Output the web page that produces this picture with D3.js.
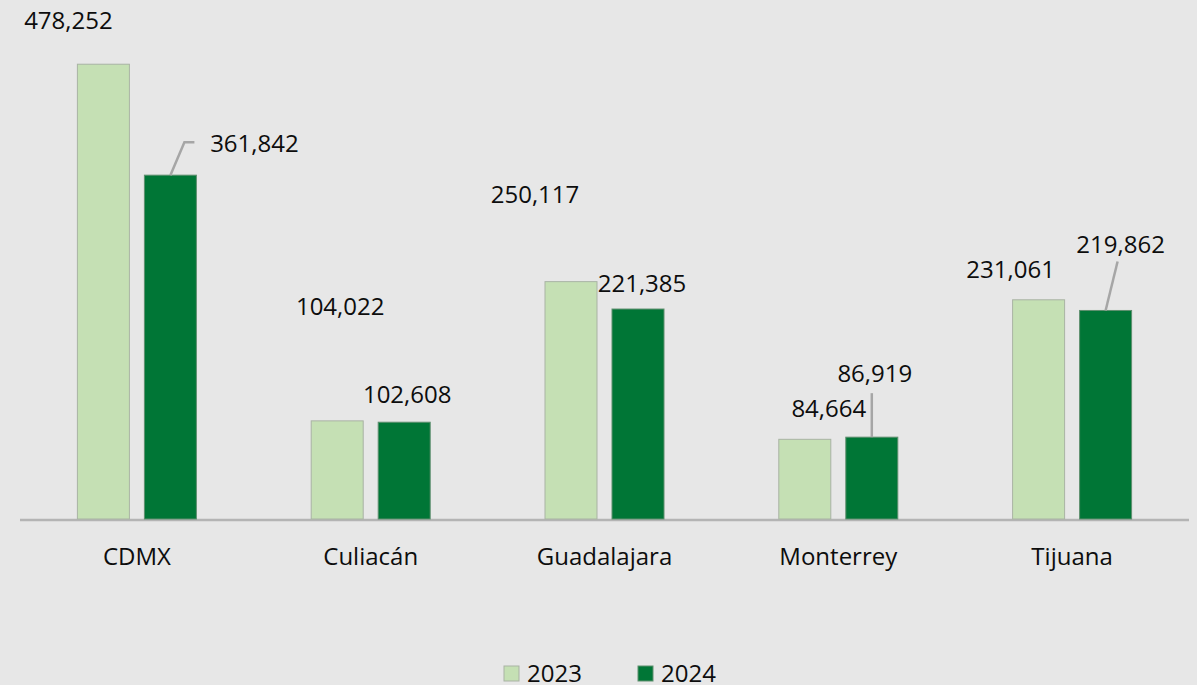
<!DOCTYPE html>
<html lang="es">
  <head>
    <meta charset="UTF-8" />
    <title>2023 vs 2024</title>
    <style>
      html, body { margin: 0; padding: 0; background: #e7e7e7; }
      svg { display: block; }
      text { font-family: "Open Sans", "Noto Sans", sans-serif; fill: #0d0d0d; }
    </style>
  </head>
  <body>
    <svg></svg>
    <script src="https://d3js.org/d3.v7.min.js"></script>
    <script>
      // data
      const cities = ["CDMX", "Culiacán", "Guadalajara", "Monterrey", "Tijuana"];
      const years = ["2023", "2024"];
      const values2023 = [478252, 104022, 250117, 84664, 231061];
      const values2024 = [361842, 102608, 221385, 86919, 219862];

      // label offsets (dx, dy from bar top-center), moved by hand like in the original
      const offsets2023 = [[-35, -35], [3, -106], [-36, -79], [24, -22], [-28, -22]];
      const offsets2024 = [[84, -23], [3, -19], [4, -17], [3, -55], [15, -57]];
      // leader lines, relative to bar top-center: list of points
      const leaders2024 = [[[0, 0], [14, -33], [24, -33]], null, null, [[0, 0], [0, -44]], [[0, 0], [12, -49]]];

      const W = 1197, H = 685;
      const colors = { "2023": "#c5e0b4", "2024": "#007636" };
      const strokes = { "2023": "#a9b3a4", "2024": "#5f8f6f" };

      const svg = d3.select("svg").attr("width", W).attr("height", H);

      const x = d3.scaleBand().domain(cities).range([20, 1189]).padding(0);
      const barW = 52, gap = 15;
      const x1 = d3.scaleOrdinal().domain(years).range([-(barW + gap) / 2, (barW + gap) / 2]);
      const y = d3.scaleLinear().domain([0, 500000]).range([520, 43.5]);

      const fmt = d3.format(",");

      // axis line
      svg.append("line")
        .attr("x1", 20).attr("x2", 1189)
        .attr("y1", 520).attr("y2", 520)
        .style("stroke", "#b4b4b4")
        .style("stroke-width", 2.5);

      const series = [
        { year: "2023", vals: values2023, offs: offsets2023 },
        { year: "2024", vals: values2024, offs: offsets2024 }
      ];

      series.forEach((s) => {
        svg.selectAll(".bar" + s.year)
          .data(s.vals)
          .enter()
          .append("rect")
          .attr("x", (d, i) => x(cities[i]) + x.bandwidth() / 2 + x1(s.year) - barW / 2)
          .attr("y", (d) => y(d))
          .attr("width", barW)
          .attr("height", (d) => 519 - y(d))
          .attr("fill", colors[s.year])
          .attr("stroke", strokes[s.year])
          .attr("stroke-width", 1);
      });

      // leader lines
      values2024.forEach((d, i) => {
        const pts = leaders2024[i];
        if (!pts) return;
        const cx = x(cities[i]) + x.bandwidth() / 2 + x1("2024");
        const cy = y(d);
        svg.append("path")
          .attr("d", d3.line()(pts.map((p) => [cx + p[0], cy + p[1]])))
          .attr("fill", "none")
          .style("stroke", "#a6a6a6")
          .style("stroke-width", 2.5);
      });

      // data labels
      series.forEach((s) => {
        svg.selectAll(".lbl" + s.year)
          .data(s.vals)
          .enter()
          .append("text")
          .attr("x", (d, i) => x(cities[i]) + x.bandwidth() / 2 + x1(s.year) + s.offs[i][0])
          .attr("y", (d, i) => y(d) + s.offs[i][1])
          .attr("text-anchor", "middle")
          .attr("font-size", "24px")
          .text((d) => fmt(d));
      });

      // category labels
      svg.selectAll(".cat")
        .data(cities)
        .enter()
        .append("text")
        .attr("x", (d) => x(d) + x.bandwidth() / 2)
        .attr("y", 565)
        .attr("text-anchor", "middle")
        .attr("font-size", "24px")
        .text((d) => d);

      // legend
      const legendX = [504, 638];
      years.forEach((yr, i) => {
        svg.append("rect")
          .attr("x", legendX[i]).attr("y", 666)
          .attr("width", 15).attr("height", 15)
          .attr("fill", colors[yr])
          .attr("stroke", strokes[yr]);
        svg.append("text")
          .attr("x", legendX[i] + 23).attr("y", 682)
          .attr("font-size", "24px")
          .text(yr);
      });
    </script>
  </body>
</html>
